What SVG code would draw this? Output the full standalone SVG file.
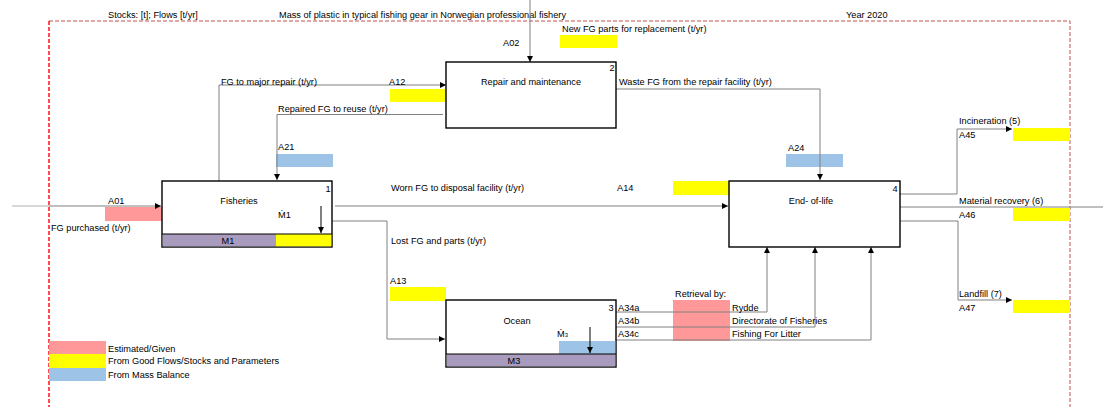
<svg xmlns="http://www.w3.org/2000/svg" width="1103" height="407" viewBox="0 0 1103 407">
<defs>
<marker id="arr" markerUnits="userSpaceOnUse" markerWidth="6" markerHeight="6" refX="6" refY="3" orient="auto"><path d="M0,0 L6,3 L0,6 z" fill="#000"/></marker>
<style>
text{font-family:"Liberation Sans",Arial,sans-serif;font-size:9.2px;fill:#000}
.c{text-anchor:middle}
.box{fill:#fff;stroke:#000;stroke-width:1.4}
.con{fill:none;stroke:#808080;stroke-width:1}
.arr{marker-end:url(#arr)}
.inner{fill:none;stroke:#000;stroke-width:1;marker-end:url(#arr)}
.pink{fill:#ff9999}
.yel{fill:#ffff00}
.blue{fill:#9dc3e6}
.pur{fill:#a99bbd}
</style>
</defs>
<rect width="1103" height="407" fill="#fff"/>
<g id="boundary">
<path d="M49,21 H1070 V407" fill="none" stroke="#c0504d" stroke-width="1" stroke-dasharray="4,2"/>
<path d="M49,21 V407" fill="none" stroke="#ff0000" stroke-width="1.4" stroke-dasharray="4,2"/>
</g>
<g id="titles">
<text x="108" y="18">Stocks: [t]; Flows [t/yr]</text>
<text x="279" y="18">Mass of plastic in typical fishing gear in Norwegian professional fishery</text>
<text x="846" y="18">Year 2020</text>
</g>
<g id="data">
<rect class="yel" x="560" y="35" width="57" height="13"/>
<rect class="yel" x="390" y="89" width="56" height="13"/>
<rect class="blue" x="276" y="154" width="57" height="13"/>
<rect class="blue" x="786" y="154" width="57" height="13"/>
<rect class="pink" x="105" y="207" width="57" height="14"/>
<rect class="yel" x="673" y="181" width="56" height="14"/>
<rect class="yel" x="390" y="287" width="56" height="14"/>
<rect class="pink" x="673" y="300" width="57" height="41"/>
<rect class="yel" x="1013" y="128" width="57" height="13"/>
<rect class="yel" x="1013" y="208" width="57" height="13"/>
<rect class="yel" x="1013" y="300" width="57" height="13"/>
</g>
<g id="connectors">
<path class="con arr" d="M530,0 V62"/>
<path class="con arr" d="M219,181 V85 H446"/>
<path class="con arr" d="M443,114.5 H277 V180"/>
<path class="con arr" d="M616,89 H820 V180"/>
<path d="M12,206 H49" fill="none" stroke="#b0b0b0" stroke-width="1"/>
<path class="con arr" d="M49,206 H161"/>
<path class="con arr" d="M335,206 H728"/>
<path class="con arr" d="M329,221 H387 V339 H445"/>
<path class="con arr" d="M616,312 H767 V247"/>
<path class="con arr" d="M616,327 H815 V247"/>
<path class="con arr" d="M616,340 H871 V247"/>
<path class="con arr" d="M900,194 H957 V129 H1012"/>
<path class="con" d="M900,207 H1103"/>
<path class="con arr" d="M900,221 H958 V300 H1012"/>
</g>
<g id="repair">
<rect class="box" x="446" y="62" width="170" height="66"/>
<text x="612" y="71" class="c">2</text>
<text x="531" y="85" class="c">Repair and maintenance</text>
</g>
<g id="fisheries">
<rect class="box" x="162" y="181" width="170" height="66"/>
<rect class="pur" x="162.7" y="234" width="113.3" height="12.3"/>
<rect class="yel" x="276" y="234" width="55.3" height="12.3"/>
<line x1="162" y1="234" x2="332" y2="234" stroke="#000" stroke-width="1"/>
<path class="inner" d="M321,206 V233"/>
<text x="328" y="192" class="c">1</text>
<text x="239" y="204" class="c">Fisheries</text>
<text x="278" y="218">Ṁ1</text>
<text x="228" y="244" class="c">M1</text>
</g>
<g id="eol">
<rect class="box" x="729" y="181" width="171" height="66"/>
<text x="895" y="192" class="c">4</text>
<text x="811" y="204" class="c">End- of-life</text>
</g>
<g id="ocean">
<rect class="box" x="446" y="300" width="170" height="67"/>
<rect class="blue" x="559" y="341" width="56.3" height="13"/>
<rect class="pur" x="446.7" y="354" width="168.6" height="12.3"/>
<line x1="446" y1="354" x2="616" y2="354" stroke="#000" stroke-width="1"/>
<path class="inner" d="M590,327 V353"/>
<text x="611" y="311" class="c">3</text>
<text x="517" y="324" class="c">Ocean</text>
<text x="557" y="337">Ṁ<tspan font-size="6">3</tspan></text>
<text x="514" y="364" class="c">M3</text>
</g>
<g id="labels">
<text x="503" y="46">A02</text>
<text x="562" y="32">New FG parts for replacement (t/yr)</text>
<text x="221" y="85">FG to major repair (t/yr)</text>
<text x="389" y="85">A12</text>
<text x="278" y="112">Repaired FG to reuse (t/yr)</text>
<text x="278" y="150">A21</text>
<text x="619" y="85">Waste FG from the repair facility (t/yr)</text>
<text x="788" y="151">A24</text>
<text x="108" y="204">A01</text>
<text x="51" y="231">FG purchased (t/yr)</text>
<text x="391" y="191">Worn FG to disposal facility (t/yr)</text>
<text x="617" y="191">A14</text>
<text x="391" y="244">Lost FG and parts (t/yr)</text>
<text x="390" y="284">A13</text>
<text x="675" y="297">Retrieval by:</text>
<text x="618" y="311">A34a</text>
<text x="618" y="324">A34b</text>
<text x="618" y="337">A34c</text>
<text x="732" y="311">Rydde</text>
<text x="732" y="324">Directorate of Fisheries</text>
<text x="732" y="337">Fishing For Litter</text>
<text x="959" y="124">Incineration (5)</text>
<text x="959" y="138">A45</text>
<text x="959" y="204">Material recovery (6)</text>
<text x="959" y="218">A46</text>
<text x="959" y="297">Landfill (7)</text>
<text x="959" y="311">A47</text>
</g>
<g id="legend">
<rect class="pink" x="49" y="341" width="57" height="13"/>
<rect class="yel" x="49" y="354" width="57" height="14"/>
<rect class="blue" x="49" y="368" width="57" height="13"/>
<text x="108" y="352">Estimated/Given</text>
<text x="108" y="364">From Good Flows/Stocks and Parameters</text>
<text x="108" y="378">From Mass Balance</text>
</g>
</svg>
